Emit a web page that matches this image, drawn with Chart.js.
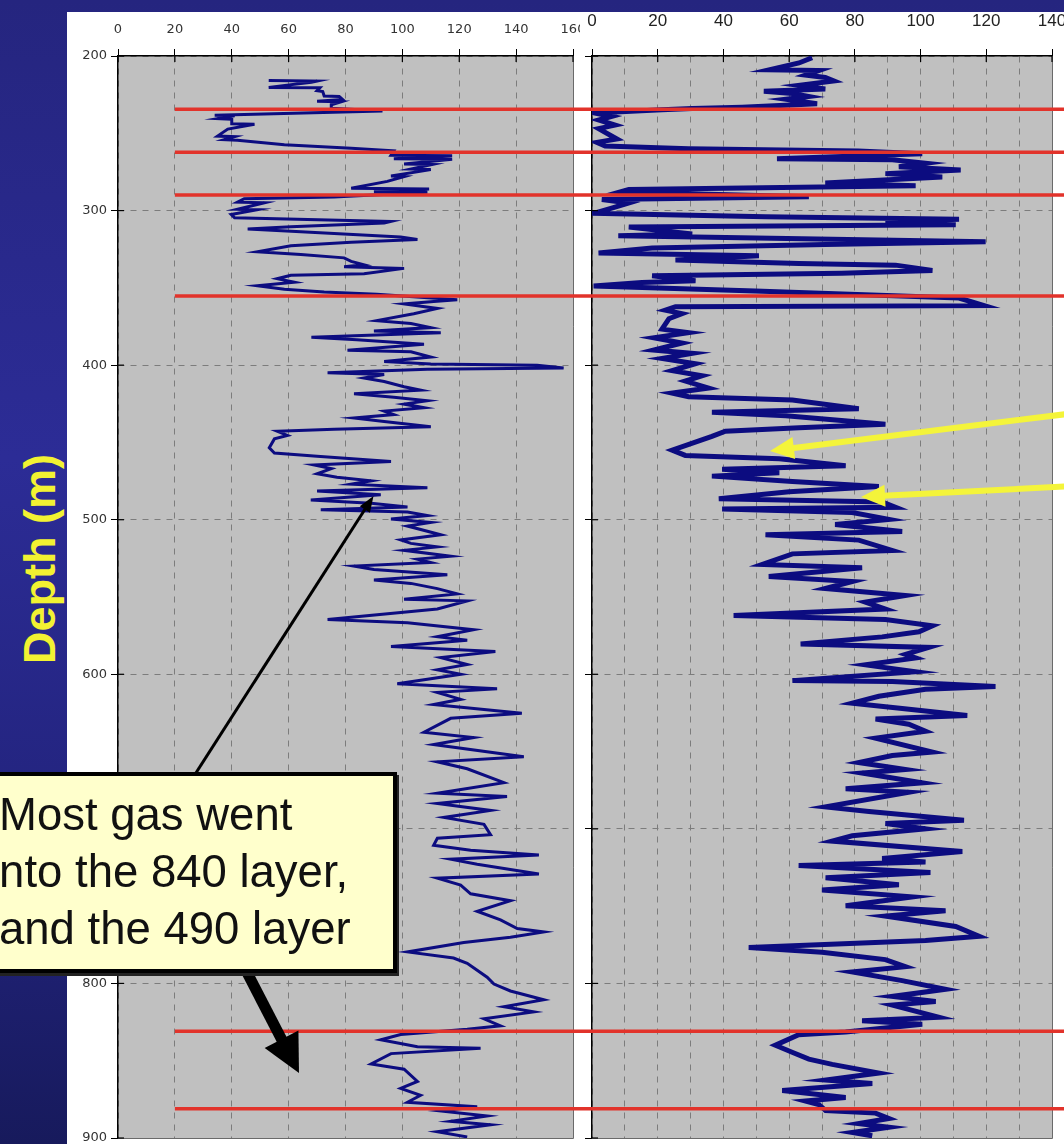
<!DOCTYPE html>
<html>
<head>
<meta charset="utf-8">
<script src="https://cdn.jsdelivr.net/npm/chart.js@4.4.1/dist/chart.umd.min.js"></script>
<style>
  html, body { margin: 0; padding: 0; }
  body {
    width: 1064px; height: 1144px; overflow: hidden; position: relative;
    background: linear-gradient(180deg, #25257f 0%, #2c2c96 40%, #22237c 75%, #171a5c 100%);
  }
  #sheet { position: absolute; left: 67px; top: 12px; width: 997px; height: 1132px; background: #fff; }
  canvas { position: absolute; top: 12px; }
  #left { left: 67px; }
  #right { left: 580px; }
  #ylabel {
    position: absolute; left: -111px; top: 534px; width: 300px; height: 50px;
    text-align: center; line-height: 50px;
    font: bold 45px "Liberation Sans", Arial, sans-serif; color: #f2f232;
    transform: rotate(-90deg); transform-origin: 150px 25px;
  }
  #arrows { position: absolute; left: 0; top: 0; z-index: 2; }
  #note {
    position: absolute; left: -30px; top: 772px; width: 427px; height: 201px;
    box-sizing: border-box; border: 4px solid #000; background: #ffffcc;
    box-shadow: 2px 3px 0 #222;
    font: 45.5px "Liberation Sans", Arial, sans-serif; line-height: 57px; color: #111;
    padding: 10px 0 0 25px; z-index: 3; white-space: nowrap;
  }
</style>
</head>
<body>
<div id="sheet"></div>
<div id="ylabel">Depth (m)</div>
<canvas id="left" width="513" height="1132"></canvas>
<canvas id="right" width="484" height="1132"></canvas>
<svg id="arrows" width="1064" height="1144"></svg>
<div id="note">
  <div>Most gas went</div>
  <div style="margin-left:-10px">into the 840 layer,</div>
  <div>and the 490 layer</div>
</div>
<script>
// depth (m), value
const leftLog = [
  [215.8, 53], [216.2, 70], [217, 68], [220.3, 53], [220.6, 71], [222.5, 70], [223, 72], [225.9, 72.5],
  [226.2, 77.8], [228.2, 79], [229.3, 70], [229.6, 78.4], [231.5, 75], [233.8, 75], [235.6, 93],
  [238.3, 34], [238.6, 41], [240.5, 35], [241, 40], [243.9, 40], [244.2, 48], [247.3, 38.6],
  [251.8, 35], [252.2, 41], [254.1, 37.4], [254.5, 42], [257.4, 58.5], [259.7, 82], [261.3, 97],
  [264.2, 96], [264.5, 117.5], [266.4, 97], [266.8, 117.5], [269.8, 100.6], [270.2, 110.5],
  [273.2, 103], [273.5, 110], [277.7, 96], [278, 100.6], [281.1, 94.7], [285.6, 82], [286, 109.4],
  [287.8, 90], [288.1, 108.8], [291.2, 76], [292.3, 44.4], [294.6, 42], [294.9, 51.5], [299.1, 42],
  [299.4, 49], [302.5, 39.8], [304.7, 41], [307, 96], [308.1, 93.6], [310.4, 60.8], [311.9, 45.6],
  [313.7, 64.3], [317.1, 99.4], [318.7, 105.3], [320.5, 82], [322.7, 60.8], [326.6, 49],
  [328.4, 64.3], [330.6, 79.5], [332.9, 82], [335.1, 86.5], [336.3, 79.5], [337.4, 100.6],
  [340.8, 86.5], [341.9, 60.8], [344.1, 56], [346.4, 62], [348.6, 49], [350.9, 58.5], [352.7, 72.5],
  [354.1, 91], [357.7, 119.3], [358.8, 111], [360.4, 100.6], [363.3, 112.3], [366.7, 104],
  [371.2, 91], [373, 103], [375.7, 110], [377.9, 90], [379.1, 113.5], [382, 68], [383.6, 84],
  [386.5, 107.6], [390.3, 80.7], [391.4, 103], [394.8, 110], [397.7, 93.6], [399.3, 110],
  [400, 147.4], [401.8, 156.7], [402.7, 108.8], [405, 73.7], [406.1, 93.6], [408.3, 86.5],
  [410.6, 93.6], [414, 100.6], [416.2, 106.4], [418.5, 83], [420.7, 97], [423, 108.8],
  [425.2, 100.6], [427.5, 107.6], [429.7, 93.6], [432, 97], [434.2, 83], [436.5, 93.6],
  [439.9, 110], [441.4, 76], [442.8, 56], [445.5, 59.6], [447.7, 55], [453.4, 53.2], [456.8, 55],
  [459, 70], [462.4, 96], [464.6, 69], [466.9, 75], [470.3, 70], [472.5, 77], [474.8, 89], [477, 82],
  [479.3, 108.8], [481.5, 70], [483.8, 92.4], [487.2, 67.8], [489.4, 89], [491.7, 101.8],
  [493.5, 71.3], [495, 101.8], [497.3, 108.8], [499.5, 96], [501.8, 110], [504.1, 101.8],
  [509.7, 113.5], [513.1, 99.4], [515.3, 103], [517.6, 112.3], [519.8, 100.6], [523.6, 117],
  [525.5, 105.3], [527.7, 110], [530, 83], [532.2, 90], [535.6, 115.8], [539, 90], [541.2, 103],
  [544.6, 112.3], [548, 119.3], [551.4, 100.6], [552.5, 122.8], [557.8, 112.3], [564.5, 73.7],
  [566.7, 101.8], [571.2, 125], [575.7, 112.3], [578, 122.8], [582, 96], [585.2, 132.7],
  [589.2, 113.5], [593.7, 122.8], [597.1, 112.3], [600, 120.5], [606.1, 98.2], [609.4, 133.3],
  [611.7, 112.3], [616.2, 120.5], [619.6, 111], [625.2, 142], [628.5, 117], [637.5, 107.6],
  [640.9, 125], [645.4, 111], [653.3, 142.7], [656.6, 112.3], [661.1, 122.8], [670.1, 135.7],
  [676.9, 112.3], [679.1, 136.8], [683.6, 112.3], [688.1, 131], [692.6, 114.6], [697.1, 128.7],
  [703.8, 131], [706.1, 112.3], [710.6, 111], [713.9, 124], [716.9, 148], [719.6, 117],
  [722.9, 126.3], [729.2, 148], [731.9, 112.3], [736.4, 120.5], [742, 124], [746.5, 138],
  [753.3, 126.3], [758.9, 134.5], [764.5, 140.4], [766.7, 149.7], [770.1, 138], [773.5, 121.6],
  [779.6, 101.8], [783.6, 118], [787, 122.8], [791.5, 126.3], [796, 129.8], [800.4, 132.2],
  [804.9, 138], [810.6, 149.7], [815.1, 135.7], [818.4, 146.2], [822.9, 128.7], [827.4, 134.5],
  [829.7, 122.8], [833, 99.4], [836.4, 92.4], [840.9, 105.3], [842, 127.5], [845.4, 96],
  [852.1, 89], [855.5, 100.6], [863.4, 105.3], [867.9, 99.4], [872.4, 106.4], [876.9, 101.8],
  [879.8, 126.3], [882.5, 113.5], [885.8, 129.8], [889.2, 117], [891.5, 131], [896, 112.3],
  [899.3, 122.8]
];

const rightLog = [
  [201.1, 67], [204.5, 63], [208.9, 54], [209.4, 69], [212.3, 65], [213.9, 71], [216.1, 73.6],
  [219, 63], [221.3, 71], [222.8, 52.3], [224.2, 61], [226.2, 66], [228, 59], [230.9, 68.5],
  [233.1, 45.7], [234, 30.5], [234.7, 21.3], [236.9, 1], [239.1, 6], [241.4, 2], [244.7, 7],
  [247, 2], [253.7, 7.6], [255.9, 1.5], [258.2, 4], [260, 29.4], [261.5, 81], [263.3, 100.5],
  [266.4, 56.3], [267.1, 91.4], [269.4, 101.5], [271.6, 93.4], [273.8, 112.2], [276.1, 89.3],
  [278.3, 106.6], [282.1, 71], [283.9, 98.5], [286.4, 11.2], [287.7, 9], [288.8, 23.4], [291, 66],
  [292.8, 3], [295.1, 11.2], [298.4, 6], [301.8, 0.5], [304, 52.8], [305.6, 111.7], [307.4, 89.3],
  [309.2, 110.7], [310.7, 11.2], [315.2, 30.5], [316.3, 8], [320.1, 119.8], [321.9, 71],
  [324.2, 18.3], [327.5, 2], [329.3, 50.8], [332, 25.4], [334.2, 63], [335.3, 92.4], [338.7, 103.6],
  [340.5, 76], [342.1, 18.3], [345.4, 31.5], [346.5, 15.2], [348.8, 0.5], [352.1, 49.7],
  [356.6, 111.7], [361.5, 119.3], [362.2, 25.4], [364.4, 22.3], [366.7, 27.4], [370, 23.4],
  [376.7, 21.3], [379, 29.4], [382.3, 18.8], [385.7, 27.4], [390.2, 18.8], [392.4, 30.5],
  [395.7, 21.3], [399.1, 31.5], [403.6, 24.4], [406.9, 33.5], [410.3, 28.4], [414.8, 35.5],
  [418.1, 24.4], [420.4, 29.4], [422.6, 61], [428.2, 81.2], [430.4, 36.5], [432.7, 59],
  [438.3, 89.3], [440.5, 63], [442.7, 40.6], [446.1, 36.5], [455, 24.4], [458.4, 28.4], [460.6, 57],
  [465.1, 77.2], [467.3, 39.6], [469.6, 57], [471.8, 36.5], [475.2, 61], [478.5, 87.3], [481.9, 60],
  [486.4, 38.6], [488.6, 88.3], [492, 92.4], [493.1, 39.6], [495.3, 79.2], [499.8, 90.4],
  [503.1, 74], [507.6, 94.4], [509.8, 52.8], [513.2, 81.2], [519.9, 91.4], [522.1, 61],
  [528.9, 51.8], [531.1, 82.2], [536.7, 53.8], [540, 79.2], [544.5, 71], [549, 95.4],
  [553.3, 83.2], [557.8, 89.3], [561.9, 43.1], [564.6, 89.3], [568.6, 103.6], [572.5, 99.5],
  [575.8, 88.3], [580.4, 63.5], [582.6, 102.5], [587.1, 95.4], [589.4, 98.5], [593.9, 83.2],
  [598.4, 98.5], [604.1, 61], [604.7, 91.4], [607.9, 122.8], [609.7, 101.5], [614.2, 87.3],
  [618.7, 79.2], [622.1, 94.4], [626.6, 114.2], [628.9, 86.3], [632.3, 96.4], [636.8, 101.5],
  [641.3, 86.3], [650.3, 103.6], [652.6, 91.4], [657.1, 81.2], [661.6, 95.4], [663.9, 82.2],
  [670.2, 100.5], [674, 77.2], [676.3, 96.4], [685.8, 71.1], [688.7, 84.3], [694.4, 113.2],
  [696.6, 89.3], [700, 101.5], [704.5, 79.2], [707.9, 73.1], [714.7, 112.7], [719.2, 88.3],
  [721.4, 101.5], [723.7, 62.9], [728.2, 103], [731.6, 71.1], [736.1, 93.4], [739.5, 70],
  [744, 97.5], [749.7, 77.2], [753, 107.6], [756.4, 89.3], [763.2, 110.7], [769.5, 117.8],
  [772.2, 101.5], [776.7, 47.7], [779.9, 70], [784.6, 89.3], [789.2, 95.4], [792.6, 79.2],
  [798.2, 94.4], [803.8, 107.6], [808.4, 91.4], [811.7, 104.6], [814, 91.4], [821.9, 105.6],
  [824.2, 82.2], [826.4, 100.5], [831.4, 77.2], [833.2, 62.9], [840, 55.8], [844.5, 60.9],
  [849, 66], [852.4, 73.1], [858, 87.3], [862.5, 71.1], [864.8, 85.3], [869.3, 57.9],
  [873.8, 77.2], [876.1, 65], [878.3, 69], [882.3, 71.1], [883.9, 86.3], [887.4, 90.4],
  [890.7, 81.2], [893, 90.4], [896.4, 79.2], [898.6, 85.3]
];

// marked layer boundaries (m)
const layerDepths = [234.5, 262.2, 289.9, 355.2, 831, 881];
const depthRange = [200, 900];
const leftRange = [0, 160];
const rightRange = [0, 140];

const toPoints = log => log.map(([d, v]) => ({ x: v, y: d }));

// grey plot background, layer lines, inward tick marks, right/bottom frame
const panelPlugin = {
  id: 'panel',
  beforeDraw(chart) {
    const { ctx, chartArea: a } = chart;
    ctx.save();
    ctx.fillStyle = '#c0c0c0';
    ctx.fillRect(a.left, a.top, a.right - a.left, a.bottom - a.top);
    ctx.restore();
  },
  afterDatasetsDraw(chart, args, opts) {
    const { ctx, chartArea: a, scales: { x, y } } = chart;
    ctx.save();
    ctx.strokeStyle = '#6a6a6a';
    ctx.lineWidth = 1;
    ctx.beginPath();
    ctx.moveTo(a.right + 0.5, a.top); ctx.lineTo(a.right + 0.5, a.bottom + 0.5);
    ctx.lineTo(a.left, a.bottom + 0.5);
    ctx.stroke();

    ctx.strokeStyle = '#000';
    ctx.lineWidth = 1.2;
    x.ticks.forEach(t => {
      if (t.value % 20 !== 0) return;
      const px = x.getPixelForValue(t.value);
      ctx.beginPath(); ctx.moveTo(px, a.top); ctx.lineTo(px, a.top + 6); ctx.stroke();
    });
    y.ticks.forEach(t => {
      const py = y.getPixelForValue(t.value);
      ctx.beginPath(); ctx.moveTo(a.left, py); ctx.lineTo(a.left + 6, py); ctx.stroke();
    });

    ctx.strokeStyle = '#e2332b';
    ctx.lineWidth = 3.5;
    layerDepths.forEach(d => {
      const py = y.getPixelForValue(d);
      const from = opts.lineFrom === null ? 0 : x.getPixelForValue(opts.lineFrom);
      ctx.beginPath(); ctx.moveTo(from, py); ctx.lineTo(chart.width, py); ctx.stroke();
    });
    ctx.restore();
  }
};

function makeChart(id, log, range, o) {
  return new Chart(document.getElementById(id), {
    type: 'scatter',
    data: {
      datasets: [{
        data: toPoints(log),
        showLine: true,
        borderColor: '#0c0c80',
        borderWidth: o.lineWidth,
        pointRadius: 0,
        tension: 0
      }]
    },
    options: {
      responsive: false,
      animation: false,
      layout: { padding: { top: 0, left: 0, right: o.padRight, bottom: 6 } },
      plugins: {
        legend: { display: false },
        tooltip: { enabled: false },
        panel: { lineFrom: o.lineFrom }
      },
      scales: {
        x: {
          type: 'linear', position: 'top', min: range[0], max: range[1],
          ticks: {
            stepSize: o.xStep, padding: o.labelPad, color: o.xColor,
            font: o.xFont, maxRotation: 0, minRotation: 0, autoSkip: false,
            callback: v => (v % 20 === 0 ? v : '')
          },
          grid: {
            color: '#7c7c7c', lineWidth: 1, tickLength: 7,
            tickColor: c => (c.tick && c.tick.value % 20 === 0 ? '#000' : 'rgba(0,0,0,0)')
          },
          border: { color: '#000', width: 1.5, dash: [6, 6] },
          afterFit: s => { s.height = 44; s.paddingLeft = 0; s.paddingRight = 0; }
        },
        y: {
          type: 'linear', reverse: true, min: depthRange[0], max: depthRange[1],
          ticks: { stepSize: 100, display: o.yLabels, padding: 4, color: '#333',
            font: { family: 'DejaVu Sans', size: 13 } },
          grid: { color: '#7c7c7c', lineWidth: 1, tickLength: 7, tickColor: '#000' },
          border: { color: '#000', width: 1.5, dash: [6, 6] },
          afterFit: s => { s.width = o.yWidth; s.paddingTop = 0; s.paddingBottom = 0; }
        }
      }
    },
    plugins: [panelPlugin]
  });
}

makeChart('left', leftLog, leftRange, {
  lineWidth: 3, padRight: 7, lineFrom: 20, xStep: 20, labelPad: 12, yLabels: true, yWidth: 51,
  xColor: '#333', xFont: { family: 'DejaVu Sans', size: 13 }
});
makeChart('right', rightLog, rightRange, {
  lineWidth: 5, padRight: 12, lineFrom: null, xStep: 10, labelPad: 17, yLabels: false, yWidth: 12,
  xColor: '#222', xFont: { family: 'Liberation Sans Narrow, Liberation Sans', size: 17 }
});

// annotation arrows
const svg = document.getElementById('arrows');
function arrow(x1, y1, x2, y2, w, hl, hw, color) {
  const dx = x2 - x1, dy = y2 - y1, len = Math.hypot(dx, dy);
  const ux = dx / len, uy = dy / len;
  const bx = x2 - ux * hl, by = y2 - uy * hl;
  const ns = 'http://www.w3.org/2000/svg';
  const ln = document.createElementNS(ns, 'line');
  ln.setAttribute('x1', x1); ln.setAttribute('y1', y1);
  ln.setAttribute('x2', bx + ux * 2); ln.setAttribute('y2', by + uy * 2);
  ln.setAttribute('stroke', color); ln.setAttribute('stroke-width', w);
  svg.appendChild(ln);
  const pg = document.createElementNS(ns, 'polygon');
  pg.setAttribute('points', [
    [x2, y2], [bx - uy * hw / 2, by + ux * hw / 2], [bx + uy * hw / 2, by - ux * hw / 2]
  ].map(p => p.join(',')).join(' '));
  pg.setAttribute('fill', color);
  svg.appendChild(pg);
}
arrow(185, 790, 373.5, 496, 3, 16, 12, '#000');
arrow(238, 955, 299, 1073, 11, 38, 38, '#000');
arrow(1075, 413, 770, 451, 6, 24, 22, '#f4f43a');
arrow(1075, 486, 861, 497, 6, 24, 22, '#f4f43a');
</script>
</body>
</html>
